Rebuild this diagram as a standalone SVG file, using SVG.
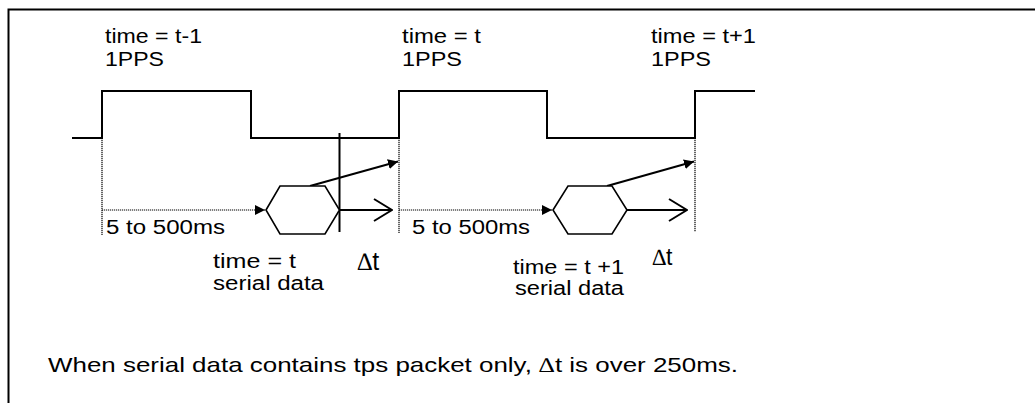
<svg xmlns="http://www.w3.org/2000/svg" width="1035" height="403" viewBox="0 0 1035 403">
<style>
text{font-family:"Liberation Sans",Arial,sans-serif;font-size:20px;fill:#000}
.wave{fill:none;stroke:#000;stroke-width:2}
.dot{fill:none;stroke:#000;stroke-width:1.2;stroke-dasharray:1.2 0.8}
.sol{fill:none;stroke:#000;stroke-width:2}
.hex{fill:#fff;stroke:#000;stroke-width:1.6}
.big{font-size:21px}
.dt1{font-size:25px}
.dt2{font-size:23px}
.sym{font-family:"Liberation Serif","Times New Roman",serif}
</style>
<defs>
<marker id="fill" viewBox="0 0 10 10" refX="10" refY="5" markerWidth="10" markerHeight="10" markerUnits="userSpaceOnUse" orient="auto">
<path d="M0,0 L10,5 L0,10 z" fill="#000"/>
</marker>
<marker id="open" viewBox="0 0 20 24" refX="19" refY="12" markerWidth="20" markerHeight="24" markerUnits="userSpaceOnUse" orient="auto">
<path d="M1,1 L19,12 L1,23" fill="none" stroke="#000" stroke-width="2"/>
</marker>
</defs>
<g id="frame">
<path d="M8.5,403 L8.5,9.5 L1035,9.5" fill="none" stroke="#000" stroke-width="2"/>
</g>
<g id="signal">
<polyline class="wave" points="72,138 102,138 102,91 251,91 251,138 399,138 399,91 547,91 547,138 695,138 695,91 755,91"/>
</g>
<g id="connectors">
<line class="dot" x1="102" y1="138" x2="102" y2="235"/>
<line class="dot" x1="399" y1="138" x2="399" y2="233"/>
<line class="dot" x1="695" y1="138" x2="695" y2="232"/>
<line class="dot" x1="102" y1="210" x2="265" y2="210" marker-end="url(#fill)"/>
<line class="dot" x1="399" y1="210" x2="552" y2="210" marker-end="url(#fill)"/>
<line class="sol" x1="339.5" y1="133" x2="339.5" y2="232"/>
<line class="sol" x1="310" y1="186" x2="398" y2="161.5" marker-end="url(#fill)"/>
<line class="sol" x1="607" y1="186" x2="694" y2="161.5" marker-end="url(#fill)"/>
<line class="sol" x1="339.5" y1="210" x2="392" y2="210" marker-end="url(#open)"/>
<line class="sol" x1="627" y1="210" x2="687" y2="210" marker-end="url(#open)"/>
</g>
<g id="packet1">
<polygon class="hex" points="266,210 280,186 325,186 339.5,210 325,234 280,234"/>
</g>
<g id="packet2">
<polygon class="hex" points="553,210 568,186 612,186 627,210 612,234 568,234"/>
</g>
<g id="labels">
<text x="105" y="43" textLength="97" lengthAdjust="spacingAndGlyphs">time = t-1</text>
<text x="105" y="65.5" textLength="59" lengthAdjust="spacingAndGlyphs">1PPS</text>
<text x="402" y="43" textLength="79" lengthAdjust="spacingAndGlyphs">time = t</text>
<text x="402" y="65.5" textLength="60" lengthAdjust="spacingAndGlyphs">1PPS</text>
<text x="651" y="43" textLength="105" lengthAdjust="spacingAndGlyphs">time = t+1</text>
<text x="651" y="65.5" textLength="60" lengthAdjust="spacingAndGlyphs">1PPS</text>
<text x="106" y="234" textLength="119" lengthAdjust="spacingAndGlyphs">5 to 500ms</text>
<text x="412" y="234" textLength="118" lengthAdjust="spacingAndGlyphs">5 to 500ms</text>
<text x="213" y="268" textLength="83" lengthAdjust="spacingAndGlyphs">time = t</text>
<text x="213" y="290" textLength="111" lengthAdjust="spacingAndGlyphs">serial data</text>
<text class="dt1" x="357" y="270"><tspan class="sym">∆</tspan>t</text>
<text x="513" y="274" textLength="111" lengthAdjust="spacingAndGlyphs">time = t +1</text>
<text x="515" y="295" textLength="109" lengthAdjust="spacingAndGlyphs">serial data</text>
<text class="dt2" x="652" y="265"><tspan class="sym">∆</tspan>t</text>
<text class="big" x="48" y="372" textLength="690" lengthAdjust="spacingAndGlyphs">When serial data contains tps packet only, <tspan class="sym">∆</tspan>t is over 250ms.</text>
</g>
</svg>
